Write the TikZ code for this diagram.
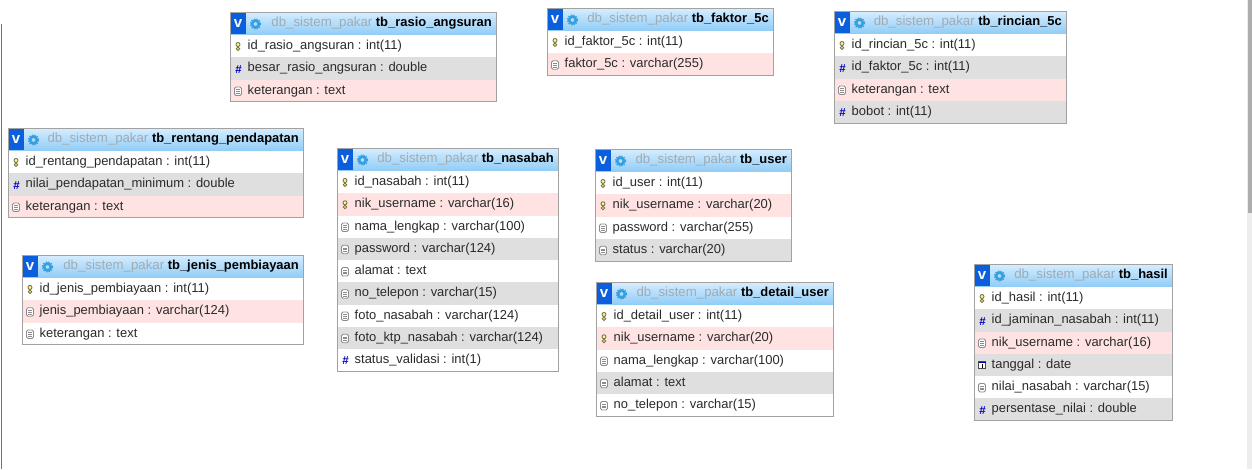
\documentclass[tikz,border=0pt]{standalone}
\usepackage{fontspec}
\setmainfont{Liberation Sans}
\usetikzlibrary{calc}

\definecolor{headtop}{HTML}{D6EDFF}
\definecolor{headbot}{HTML}{8FCCF7}
\definecolor{vblue}{HTML}{0B5FDC}
\definecolor{gearblue}{HTML}{35A0E0}
\definecolor{dbgrey}{HTML}{A0ABB3}
\definecolor{rowW}{HTML}{FFFFFF}
\definecolor{rowG}{HTML}{DFDFDF}
\definecolor{rowP}{HTML}{FFE3E3}
\definecolor{framegrey}{HTML}{A2A2A2}
\definecolor{rowtxt}{HTML}{2A2A2A}

\tikzset{
  rowlabel/.style={anchor=west, inner sep=0pt, font=\fontsize{12.95}{14}\selectfont, text=rowtxt, text height=9pt, text depth=2.5pt},
  titlelabel/.style={anchor=east, inner sep=0pt, font=\fontsize{12.95}{14}\selectfont, text height=9pt, text depth=2.5pt},
  vbox/.style={inner sep=0pt, fill=vblue, text=white, font=\bfseries\fontsize{15}{15}\selectfont, minimum width=15pt, minimum height=21pt},
  hashmark/.style={inner sep=0pt, text=blue!75!black, font=\bfseries\fontsize{11.5}{11}\selectfont},
}

% ---- field icons, drawn at (0,0) ----
\newcommand{\iconK}{\draw[draw=black!60!yellow, fill=yellow!45, line width=.9pt] (0,-2) circle (2) (0,2.2) circle (1.7);}
\newcommand{\iconH}{\node[hashmark] (hash) at (0.5,0.5) {\#};}
\newcommand{\iconT}{\draw[draw=black!45, fill=white, line width=.8pt, rounded corners=1.5pt] (-3.5,-4) rectangle (3.5,4.5); \draw[black!45, line width=.6pt] (-2,-1.4) -- (2,-1.4) (-2,.4) -- (2,.4) (-2,2.2) -- (2,2.2);}
\newcommand{\iconD}{\draw[draw=black!70, fill=white, line width=.7pt] (-3.5,-3.5) rectangle (3.5,3.5); \fill[blue!60!black] (-3.5,-3.5) rectangle (3.5,-1.8); \draw[black, line width=.8pt] (0,-1) -- (0,2.5);}

% name, left, top, right, title text, rows
\newcommand{\dbtable}[6]{
  \shade[top color=headtop, bottom color=headbot] (#2,#3) rectangle (#4,#3+23);
  \node[vbox] (#1-v) at (#2+8,#3+11.5) {v};
  \draw[gearblue, line width=2.6pt] (#2+25.5,#3+12) circle (3.4);
  \draw[gearblue, line width=.9pt, dash pattern=on 1.4pt off 1.4pt] (#2+25.5,#3+12) circle (5.3);
  \node[titlelabel] (#1-title) at (#4-4,#3+11.5) {\textcolor{dbgrey}{\fontsize{13.25}{14}\selectfont db\_sistem\_pakar} \textbf{\textcolor{black}{#5}}};
  \foreach \rowfill/\rowicon/\rowtext [count=\i] in {#6} {
    \fill[\rowfill] (#2,{#3+23+22.25*(\i-1)}) rectangle (#4,{#3+23+22.25*\i});
    \begin{scope}[shift={(#2+8,{#3+23+22.25*(\i-1)+11.5})}]
      \csname icon\rowicon\endcsname
    \end{scope}
    \node[rowlabel] (#1-\i) at (#2+17.5,{#3+23+22.25*(\i-1)+11.3}) {\rowtext};
    \xdef\lastrow{\i}
  }
  \draw[framegrey, line width=1pt] (#2,#3) rectangle (#4,{#3+23+22.25*\lastrow});
}

\begin{document}
\begin{tikzpicture}[x=1pt, y=-1pt]
\useasboundingbox (0,0) rectangle (1252,469);

% -------- page edges -----------
\draw[black!55, line width=1pt] (1.5,24) -- (1.5,469);
\fill[black!7] (1247,0) rectangle (1252,469);
\fill[black!32] (1248,0) rectangle (1252,213);

% -------- tables -----------
\dbtable{rasio}{230}{12}{496}{tb\_rasio\_angsuran}{
  rowW/K/{id\_rasio\_angsuran : int(11)},
  rowG/H/{besar\_rasio\_angsuran : double},
  rowP/T/{keterangan : text}}

\dbtable{faktor}{547}{8}{773}{tb\_faktor\_5c}{
  rowW/K/{id\_faktor\_5c : int(11)},
  rowP/T/{faktor\_5c : varchar(255)}}

\dbtable{rincian}{834}{11}{1066}{tb\_rincian\_5c}{
  rowW/K/{id\_rincian\_5c : int(11)},
  rowG/H/{id\_faktor\_5c : int(11)},
  rowP/T/{keterangan : text},
  rowG/H/{bobot : int(11)}}

\dbtable{rentang}{8}{128}{303}{tb\_rentang\_pendapatan}{
  rowW/K/{id\_rentang\_pendapatan : int(11)},
  rowG/H/{nilai\_pendapatan\_minimum : double},
  rowP/T/{keterangan : text}}

\dbtable{jenis}{22}{255}{303}{tb\_jenis\_pembiayaan}{
  rowW/K/{id\_jenis\_pembiayaan : int(11)},
  rowP/T/{jenis\_pembiayaan : varchar(124)},
  rowW/T/{keterangan : text}}

\dbtable{nasabah}{337}{148}{558}{tb\_nasabah}{
  rowW/K/{id\_nasabah : int(11)},
  rowP/K/{nik\_username : varchar(16)},
  rowW/T/{nama\_lengkap : varchar(100)},
  rowG/T/{password : varchar(124)},
  rowW/T/{alamat : text},
  rowG/T/{no\_telepon : varchar(15)},
  rowW/T/{foto\_nasabah : varchar(124)},
  rowG/T/{foto\_ktp\_nasabah : varchar(124)},
  rowW/H/{status\_validasi : int(1)}}

\dbtable{user}{595}{149}{791}{tb\_user}{
  rowW/K/{id\_user : int(11)},
  rowP/K/{nik\_username : varchar(20)},
  rowW/T/{password : varchar(255)},
  rowG/T/{status : varchar(20)}}

\dbtable{detail}{596}{282}{833}{tb\_detail\_user}{
  rowW/K/{id\_detail\_user : int(11)},
  rowP/K/{nik\_username : varchar(20)},
  rowW/T/{nama\_lengkap : varchar(100)},
  rowG/T/{alamat : text},
  rowW/T/{no\_telepon : varchar(15)}}

\dbtable{hasil}{974}{264}{1172}{tb\_hasil}{
  rowW/K/{id\_hasil : int(11)},
  rowG/H/{id\_jaminan\_nasabah : int(11)},
  rowP/T/{nik\_username : varchar(16)},
  rowG/D/{tanggal : date},
  rowW/T/{nilai\_nasabah : varchar(15)},
  rowG/H/{persentase\_nilai : double}}

\end{tikzpicture}
\end{document}
